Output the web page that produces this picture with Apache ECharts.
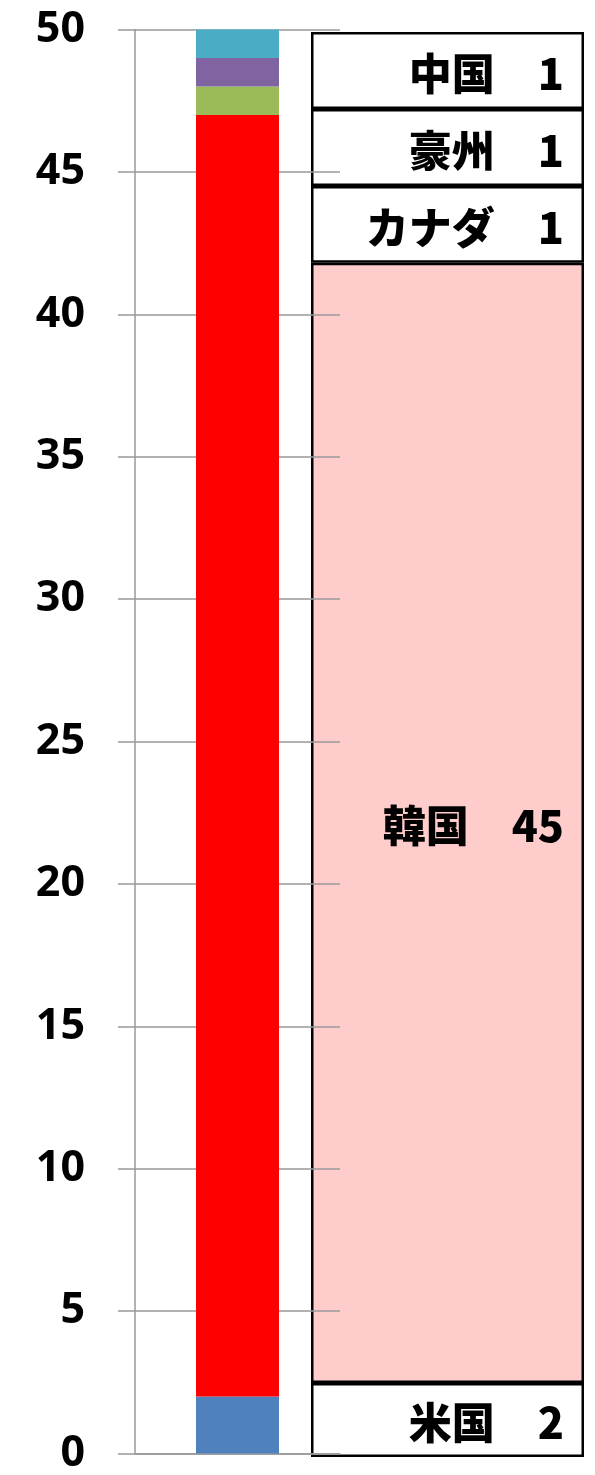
<!DOCTYPE html>
<html>
<head>
<meta charset="utf-8">
<script src="https://cdn.jsdelivr.net/npm/echarts@6/dist/echarts.min.js"></script>
<style>html,body{margin:0;padding:0;background:#fff}#c{width:595px;height:1475px}</style>
</head>
<body>
<div id="c"></div>
<script>
// Data
var countries = ['米国', '韓国', 'カナダ', '豪州', '中国'];
var counts = [2, 45, 1, 1, 1];
var colors = ['#4F81BD', '#FF0000', '#9BBB59', '#8064A2', '#4BACC6'];
var yTicks = [0, 5, 10, 15, 20, 25, 30, 35, 40, 45, 50];
// Heights (in axis units) of the label boxes drawn on the right
var boxSpans = [2.6, 39.3, 2.7, 2.7, 2.7];
var boxFills = ['#FFFFFF', '#FFCCCC', '#FFFFFF', '#FFFFFF', '#FFFFFF'];

var chart = echarts.init(document.getElementById('c'));
var series = [];
countries.forEach(function (name, i) {
  series.push({
    type: 'bar', name: name, stack: 'main', xAxisIndex: 0, yAxisIndex: 0,
    data: [counts[i]], barWidth: 83, z: 3,
    itemStyle: { color: colors[i] }
  });
});
countries.forEach(function (name, i) {
  series.push({
    type: 'bar', name: name + '_box', stack: 'box', xAxisIndex: 1, yAxisIndex: 1,
    data: [boxSpans[i]], barWidth: '100%', z: 0,
    itemStyle: { color: boxFills[i], borderColor: '#000', borderWidth: 2.5 },
    label: {
      show: true, position: 'insideRight', distance: 20, offset: [0, 3],
      formatter: name + '\u3000' + counts[i],
      fontFamily: '"Noto Sans CJK JP"', fontWeight: 900, fontSize: 43, color: '#000'
    }
  });
});

chart.setOption({
  animation: false,
  grid: [
    { left: 135, right: 255, top: 29.5, bottom: 19 },
    { left: 311, right: 11, top: 32, bottom: 18 }
  ],
  xAxis: [
    { type: 'category', gridIndex: 0, data: [''], z: 1,
      axisLine: { lineStyle: { color: '#999', width: 1.5 } },
      axisTick: { show: false }, axisLabel: { show: false } },
    { type: 'category', gridIndex: 1, data: [''], show: false }
  ],
  yAxis: [
    { type: 'value', gridIndex: 0, min: 0, max: 50, interval: 5, z: 1,
      axisLine: { show: true, lineStyle: { color: '#999', width: 1.5 } },
      axisTick: { show: true, length: 17, lineStyle: { color: '#999', width: 1.5 } },
      splitLine: { show: true, lineStyle: { color: '#999', width: 1.5 } },
      axisLabel: { margin: 50, fontFamily: '"Noto Sans"', fontWeight: 'bold', fontSize: 43, color: '#000',
        formatter: function (v) { return yTicks.indexOf(v) >= 0 ? String(v) : ''; } } },
    { type: 'value', gridIndex: 1, min: 0, max: 50, show: false }
  ],
  series: series
});
</script>
</body>
</html>
